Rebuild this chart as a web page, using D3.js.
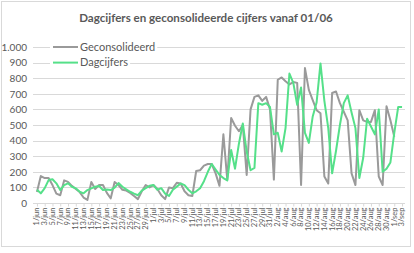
<!DOCTYPE html>
<html><head><meta charset="utf-8">
<script src="https://cdn.jsdelivr.net/npm/d3@7"></script>
<style>html,body{margin:0;padding:0;background:#fff}svg{display:block}</style>
</head><body>
<svg id="c" width="414" height="253"></svg>
<script>
const title = "Dagcijfers en geconsolideerde cijfers vanaf 01/06";
const categories = [
"1/jun","2/jun","3/jun","4/jun","5/jun","6/jun","7/jun","8/jun","9/jun","10/jun",
"11/jun","12/jun","13/jun","14/jun","15/jun","16/jun","17/jun","18/jun","19/jun","20/jun",
"21/jun","22/jun","23/jun","24/jun","25/jun","26/jun","27/jun","28/jun","29/jun","30/jun",
"1/jul","2/jul","3/jul","4/jul","5/jul","6/jul","7/jul","8/jul","9/jul","10/jul",
"11/jul","12/jul","13/jul","14/jul","15/jul","16/jul","17/jul","18/jul","19/jul","20/jul",
"21/jul","22/jul","23/jul","24/jul","25/jul","26/jul","27/jul","28/jul","29/jul","30/jul","31/jul",
"1/aug","2/aug","3/aug","4/aug","5/aug","6/aug","7/aug","8/aug","9/aug","10/aug",
"11/aug","12/aug","13/aug","14/aug","15/aug","16/aug","17/aug","18/aug","19/aug","20/aug",
"21/aug","22/aug","23/aug","24/aug","25/aug","26/aug","27/aug","28/aug","29/aug","30/aug","31/aug",
"1/sep","2/sep","3/sep"];
const geconsolideerd = [
70,173,160,160,115,60,50,145,135,110,
90,70,35,20,135,90,115,115,65,30,
135,115,85,80,65,45,25,75,115,100,
115,90,50,25,100,95,130,125,75,50,
45,205,210,240,250,250,190,110,440,150,
545,495,460,500,180,600,680,690,655,680,
600,150,790,805,780,760,775,770,115,865,
725,660,595,575,170,125,705,715,640,585,
530,190,115,595,530,520,520,595,170,115,
620,530,425,null,null];
const dagcijfers = [
85,62,95,147,152,126,83,115,126,104,
94,72,62,83,94,104,109,83,87,83,
98,128,104,87,72,60,50,80,95,110,
115,85,95,60,45,85,105,125,115,85,
62,75,95,140,200,250,215,180,160,145,
340,220,380,510,330,210,225,640,630,640,
615,440,450,330,480,830,770,630,740,450,
385,555,645,895,655,480,190,335,500,640,
690,580,480,160,290,540,490,440,600,200,
220,260,450,615,615];
const yTicks = [0,100,200,300,400,500,600,700,800,900,1000];
const yTickLabels = ["0","100","200","300","400","500","600","700","800","900","1.000"];
const seriesNames = ["Geconsolideerd","Dagcijfers"];
const seriesColors = ["#9a9a9a","#55e089"];

const svg = d3.select("#c");
const font = "Lato, 'Open Sans', sans-serif";
svg.append("rect").attr("x",1.5).attr("y",1.5).attr("width",409).attr("height",245)
  .attr("fill","#fff").attr("stroke","#d9d9d9");

const x = d3.scalePoint().domain(categories).range([35,404]).padding(0.5);
const y = d3.scaleLinear().domain([0,1000]).range([203,47]);

// gridlines
svg.append("g").selectAll("line").data(yTicks.slice(1)).join("line")
  .attr("x1",33).attr("x2",405).attr("y1",d=>Math.round(y(d))+0.5).attr("y2",d=>Math.round(y(d))+0.5)
  .attr("stroke","#d9d9d9").attr("stroke-width",1);

// y axis labels
const ya = svg.append("g").attr("transform","translate(27,0)")
  .call(d3.axisLeft(y).tickValues(yTicks).tickFormat((d,i)=>yTickLabels[i]).tickSize(0).tickPadding(0));
ya.select(".domain").remove();
ya.selectAll("text").attr("font-family",font).attr("font-size",10).attr("fill","#595959");

// x axis
const xa = svg.append("g").attr("transform","translate(0,203.5)")
  .call(d3.axisBottom(x).tickValues(categories.filter((d,i)=>i%2===0)).tickSize(3).tickPadding(3));
xa.select(".domain").attr("stroke","#d9d9d9").attr("d","M33,0H405");
xa.selectAll(".tick line").attr("stroke","#d9d9d9");
xa.selectAll("text").attr("font-family",font).attr("font-size",7.5).attr("fill","#595959")
  .attr("transform","rotate(-90)").attr("text-anchor","end").attr("dx","-4").attr("dy","-0.45em").attr("y",0).attr("x",0)
  .attr("dominant-baseline","middle").attr("dy",0);

// lines
const line = d3.line().defined(d=>d.v!==null).x(d=>x(d.c)).y(d=>y(d.v));
[geconsolideerd, dagcijfers].forEach((s,k)=>{
  svg.append("path").datum(s.map((v,i)=>({c:categories[i],v})))
    .attr("d",line).attr("fill","none").attr("stroke",seriesColors[k])
    .attr("stroke-width",2).attr("stroke-linejoin","round");
});

// legend
const lg = svg.append("g");
seriesNames.forEach((n,k)=>{
  const yy = y(1000 - k*100);
  const g = lg.append("g");
  const t = g.append("text").attr("x",80).attr("y",yy).attr("dy","0.35em")
    .attr("font-family",font).attr("font-size",11).attr("fill","#595959").text(n);
  const w = t.node().getComputedTextLength();
  g.insert("rect","text").attr("x",50).attr("y",yy-6).attr("width",w+32).attr("height",12).attr("fill","#fff");
  g.append("line").attr("x1",53).attr("x2",78).attr("y1",yy).attr("y2",yy)
    .attr("stroke",seriesColors[k]).attr("stroke-width",2);
});

// title
const tt = svg.append("text").attr("x",206).attr("y",22).attr("text-anchor","middle")
  .attr("font-family",font).attr("font-weight","bold").attr("font-size",13).attr("fill","#595959").text(title);
const tw = tt.node().getComputedTextLength();
tt.attr("font-size",13*254/tw);
</script>
</body></html>
